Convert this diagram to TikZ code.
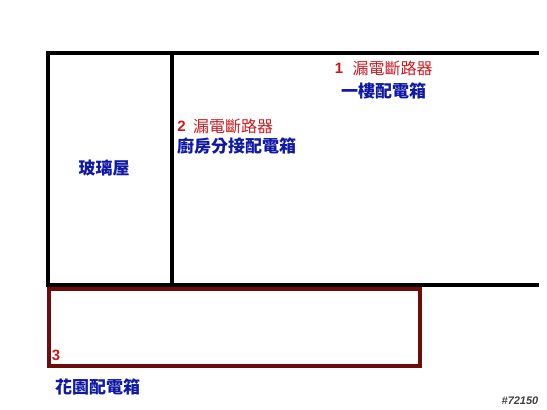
\documentclass[tikz,border=0pt]{standalone}
\usepackage{fontspec}
\setsansfont{Liberation Sans}
\newfontfamily\cjk{Noto Sans CJK TC}
\usetikzlibrary{positioning}
\definecolor{wallred}{RGB}{110,12,12}
\definecolor{labelred}{RGB}{205,25,30}
\definecolor{labelblue}{RGB}{15,25,165}

\begin{document}
\begin{tikzpicture}
[x=1pt,y=-1pt,
 wall/.style={draw,line width=3.3pt},
 gardenbox/.style={draw=wallred,line width=3.3pt},
 num/.style={text=labelred,inner sep=0pt,font=\sffamily\bfseries\fontsize{15}{15}\selectfont},
 breaker/.style={text=labelred,inner sep=0pt,font=\cjk\fontsize{16}{16}\selectfont},
 boxname/.style={text=labelblue,inner sep=0pt,font=\cjk\bfseries\fontsize{17}{17}\selectfont},
 tag/.style={text=black!75,inner sep=0pt,font=\sffamily\bfseries\itshape\fontsize{11}{11}\selectfont}]

\useasboundingbox (0,0) rectangle (547,410);

% house outline, open on the right
\draw [wall] (539,53) -- (48,53) -- (48,285) -- (539,285);
\draw [wall] (172,53) -- (172,285);

% garden
\draw [gardenbox] (49,289) rectangle (420,366);

\node (n1) [num] at (339,68) {1};
\node (b1) [breaker,right=9pt of n1] {漏電斷路器};
\node (main) [boxname,anchor=west] at (341,91) {一樓配電箱};

\node (n2) [num] at (181.5,126) {2};
\node (b2) [breaker,right=7pt of n2] {漏電斷路器};
\node (kitchen) [boxname,anchor=west] at (177,146) {廚房分接配電箱};

\node (glass) [boxname] at (104,168) {玻璃屋};

\node (n3) [num] at (56,355) {3};
\node (garden) [boxname,anchor=west] at (55,387) {花園配電箱};

\node (id) [tag] at (520,401) {\#72150};
\end{tikzpicture}
\end{document}
